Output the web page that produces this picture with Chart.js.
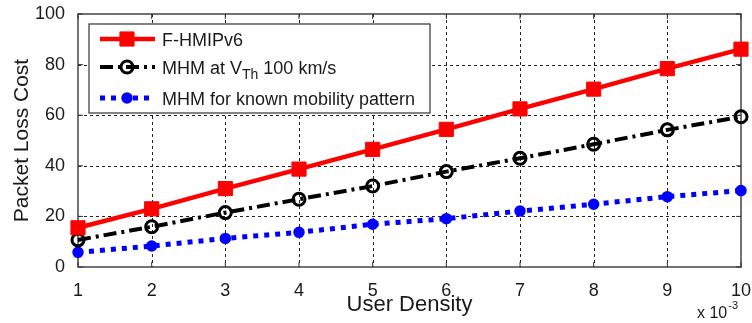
<!DOCTYPE html>
<html><head><meta charset="utf-8">
<script src="https://cdn.jsdelivr.net/npm/chart.js@4.4.0/dist/chart.umd.min.js"></script>
<style>html,body{margin:0;padding:0;background:#fff;overflow:hidden;} canvas{display:block;}</style>
</head><body>
<canvas id="c" width="752" height="323"></canvas>
<script>
// ---- data ----
const userDensity = [1, 2, 3, 4, 5, 6, 7, 8, 9, 10];
const fhmipv6   = [15.5, 23.0, 31.0, 38.7, 46.5, 54.4, 62.5, 70.3, 78.4, 86.1];
const mhmVth    = [10.7, 15.9, 21.5, 26.8, 32.0, 37.7, 43.0, 48.5, 54.2, 59.4];
const mhmKnown  = [5.8, 8.3, 11.3, 13.7, 16.9, 19.1, 22.1, 24.8, 27.8, 30.2];
const yTickValues = [0, 20, 40, 60, 80, 100];
const xTickValues = [1, 2, 3, 4, 5, 6, 7, 8, 9, 10];
const legendLabels = [
  [['F-HMIPv6', 0]],
  [['MHM at V', 0], ['Th', 1], [' 100 km/s', 0]],
  [['MHM for known mobility pattern', 0]]
];
const xAxisTitle = 'User Density';
const yAxisTitle = 'Packet Loss Cost';
const xScaleNote = ['x 10', '-3'];

const FONT = '"Liberation Sans", Arial, Helvetica, sans-serif';
const TXT = '#1a1a1a';

const toPts = arr => arr.map((v, i) => ({x: userDensity[i], y: v}));

const datasets = [
  {label: 'F-HMIPv6', data: toPts(fhmipv6), borderColor: '#ff0000', backgroundColor: '#ff0000',
   borderWidth: 4.5, pointStyle: 'rect', pointRadius: 10, pointHoverRadius: 10,
   pointBackgroundColor: '#ff0000', pointBorderColor: '#ff0000', pointBorderWidth: 1},
  {label: 'MHM at VTh 100 km/s', data: toPts(mhmVth), borderColor: '#000000', backgroundColor: '#000000',
   borderWidth: 4, borderDash: [13, 5, 3, 5], pointStyle: 'circle', pointRadius: 6, pointHoverRadius: 6,
   pointBackgroundColor: 'rgba(0,0,0,0)', pointBorderColor: '#000000', pointBorderWidth: 3},
  {label: 'MHM for known mobility pattern', data: toPts(mhmKnown), borderColor: '#0000ff', backgroundColor: '#0000ff',
   borderWidth: 5, borderDash: [5, 6], pointStyle: 'circle', pointRadius: 5, pointHoverRadius: 5,
   pointBackgroundColor: '#0000ff', pointBorderColor: '#0000ff', pointBorderWidth: 1.5}
];
datasets.forEach(d => { d.tension = 0; d.clip = false; d.fill = false; d.borderCapStyle = 'butt'; });

function marker(ctx, ds, x, y) {
  ctx.save();
  ctx.setLineDash([]);
  ctx.lineWidth = ds.pointBorderWidth;
  ctx.strokeStyle = ds.pointBorderColor;
  ctx.fillStyle = ds.pointBackgroundColor;
  ctx.beginPath();
  if (ds.pointStyle === 'rect') {
    const s = Math.SQRT1_2 * ds.pointRadius;
    ctx.rect(x - s, y - s, 2 * s, 2 * s);
  } else {
    ctx.arc(x, y, ds.pointRadius, 0, Math.PI * 2);
  }
  ctx.fill();
  ctx.stroke();
  ctx.restore();
}

const decor = {
  id: 'decor',
  beforeDatasetsDraw(chart) {
    const {ctx, chartArea: a} = chart;
    const xs = chart.scales.x, ys = chart.scales.y;
    ctx.save();
    // dashed grid
    ctx.strokeStyle = '#222';
    ctx.lineWidth = 1;
    ctx.setLineDash([3, 3]);
    xTickValues.forEach(v => {
      const px = Math.round(xs.getPixelForValue(v)) + 0.5;
      if (px <= a.left + 1 || px >= a.right - 1) return;
      ctx.beginPath(); ctx.moveTo(px, a.top); ctx.lineTo(px, a.bottom); ctx.stroke();
    });
    yTickValues.forEach(v => {
      const py = Math.round(ys.getPixelForValue(v)) + 0.5;
      if (py <= a.top + 1 || py >= a.bottom - 1) return;
      ctx.beginPath(); ctx.moveTo(a.left, py); ctx.lineTo(a.right, py); ctx.stroke();
    });
    ctx.setLineDash([]);
    ctx.strokeStyle = '#444';
    ctx.lineWidth = 1.5;
    ctx.strokeRect(a.left, a.top, a.right - a.left, a.bottom - a.top);
    // small inner tick marks
    ctx.lineWidth = 1;
    ctx.strokeStyle = '#333';
    xTickValues.forEach(v => {
      const px = xs.getPixelForValue(v);
      ctx.beginPath(); ctx.moveTo(px, a.bottom); ctx.lineTo(px, a.bottom - 5);
      ctx.moveTo(px, a.top); ctx.lineTo(px, a.top + 5); ctx.stroke();
    });
    yTickValues.forEach(v => {
      const py = ys.getPixelForValue(v);
      ctx.beginPath(); ctx.moveTo(a.left, py); ctx.lineTo(a.left + 5, py);
      ctx.moveTo(a.right, py); ctx.lineTo(a.right - 5, py); ctx.stroke();
    });
    ctx.restore();
  },
  afterDatasetsDraw(chart) {
    const {ctx, chartArea: a} = chart;
    ctx.save();
    // titles
    ctx.fillStyle = TXT;
    ctx.font = '22px ' + FONT;
    ctx.textAlign = 'center';
    ctx.textBaseline = 'alphabetic';
    ctx.fillText(xAxisTitle, (a.left + a.right) / 2, 311);
    ctx.font = '21px ' + FONT;
    ctx.textBaseline = 'middle';
    ctx.save();
    ctx.translate(22, (a.top + a.bottom) / 2);
    ctx.rotate(-Math.PI / 2);
    ctx.fillText(yAxisTitle, 0, 0);
    ctx.restore();
    // x 10^-3
    ctx.textAlign = 'left';
    ctx.font = '16px ' + FONT;
    ctx.fillText(xScaleNote[0], 697, 314);
    const w0 = ctx.measureText(xScaleNote[0]).width;
    ctx.font = '11px ' + FONT;
    ctx.fillText(xScaleNote[1], 697 + w0 + 1, 306);

    // legend
    const lx = 89, ly = 24, lw = 341, lh = 89;
    ctx.fillStyle = '#fff';
    ctx.fillRect(lx, ly, lw, lh);
    ctx.strokeStyle = '#333';
    ctx.lineWidth = 1.2;
    ctx.strokeRect(lx, ly, lw, lh);
    const rows = [39, 67, 98];
    chart.data.datasets.forEach((ds, i) => {
      const y = rows[i];
      ctx.save();
      ctx.strokeStyle = ds.borderColor;
      ctx.lineWidth = ds.borderWidth;
      ctx.setLineDash(ds.borderDash || []);
      ctx.beginPath(); ctx.moveTo(100, y); ctx.lineTo(155, y); ctx.stroke();
      ctx.restore();
      marker(ctx, ds, 127, y);
      let x = 162;
      ctx.fillStyle = TXT;
      ctx.textAlign = 'left';
      ctx.textBaseline = 'alphabetic';
      legendLabels[i].forEach(([t, sub]) => {
        ctx.font = (sub ? '14px ' : '18px ') + FONT;
        ctx.fillText(t, x, y + 6.5 + (sub ? 5 : 0));
        x += ctx.measureText(t).width;
      });
    });
    ctx.restore();
  }
};

new Chart(document.getElementById('c'), {
  type: 'line',
  data: {datasets},
  options: {
    responsive: false,
    animation: false,
    events: [],
    layout: {padding: {left: 0, right: 8, top: 14, bottom: 0}},
    plugins: {legend: {display: false}, tooltip: {enabled: false}, title: {display: false}},
    scales: {
      x: {
        type: 'linear', min: 1, max: 10,
        afterBuildTicks: s => { s.ticks = xTickValues.map(v => ({value: v})); },
        afterFit: s => { s.height = 56; s.paddingLeft = 0; s.paddingRight = 0; },
        ticks: {font: {size: 18, family: FONT}, color: TXT, padding: 5, maxRotation: 0, autoSkip: false},
        grid: {display: false},
        border: {display: false}
      },
      y: {
        type: 'linear', min: 0, max: 100,
        afterBuildTicks: s => { s.ticks = yTickValues.map(v => ({value: v})); },
        afterFit: s => { s.width = 78; s.paddingTop = 0; s.paddingBottom = 0; },
        ticks: {font: {size: 18, family: FONT}, color: TXT, padding: 5},
        grid: {display: false},
        border: {display: false}
      }
    }
  },
  plugins: [decor]
});
</script>
</body></html>
